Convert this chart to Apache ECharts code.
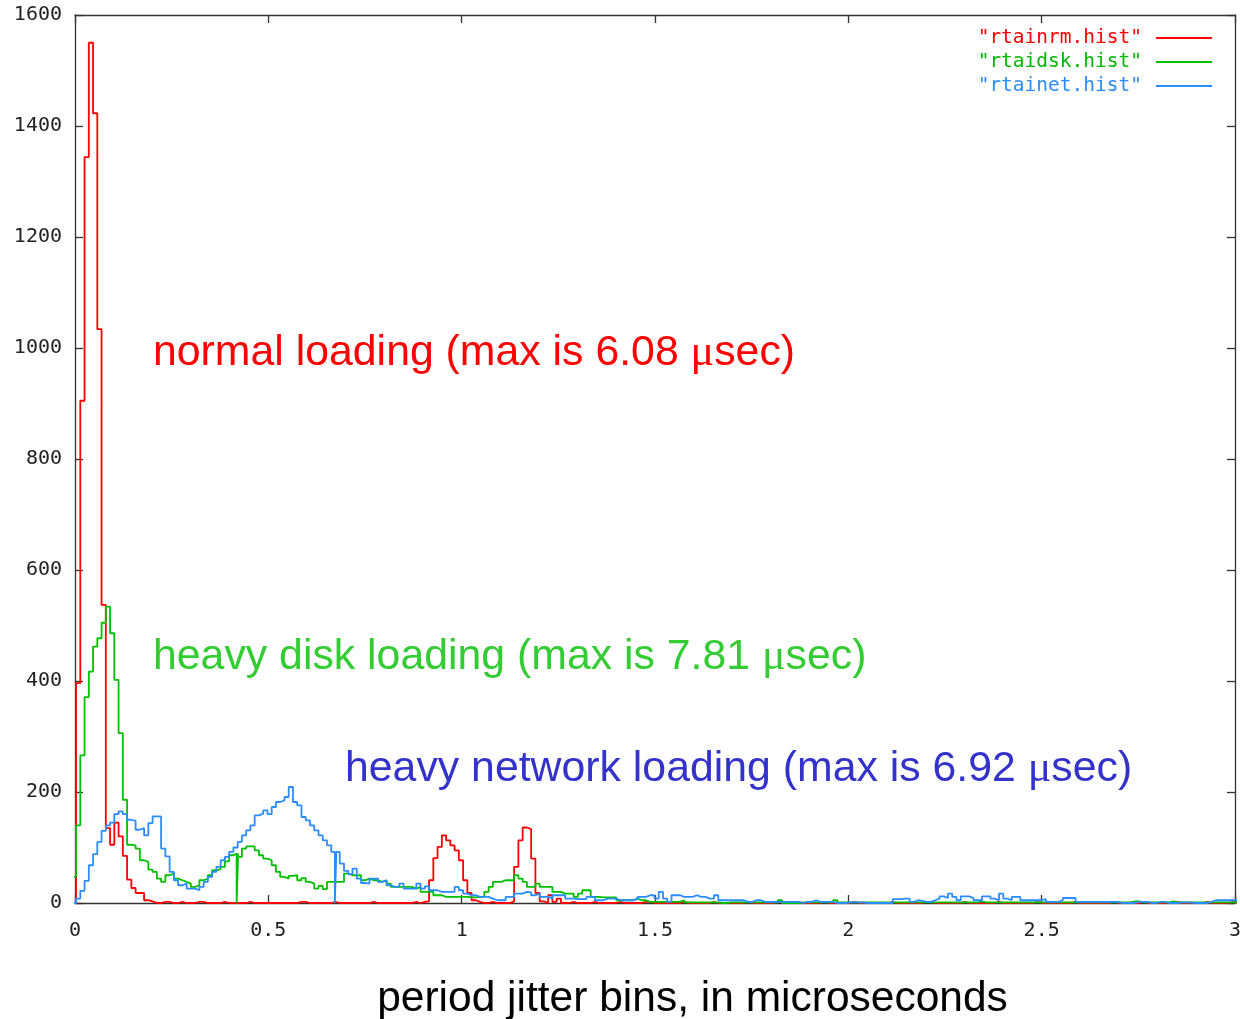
<!DOCTYPE html>
<html>
<head>
<meta charset="utf-8">
<title>Period jitter histograms</title>
<script src="https://cdn.jsdelivr.net/npm/echarts@6/dist/echarts.min.js"></script>
<style>
  html, body { margin: 0; padding: 0; background: #fff; }
  #chart { width: 1240px; height: 1019px; }
</style>
</head>
<body>
<div id="chart"></div>
<script>
// Histogram bins: each bin is BIN_WIDTH microseconds wide, the first one starts at FIRST_BIN_START.
const BIN_WIDTH = 0.011;
const FIRST_BIN_START = -0.0083;
const EMPTY_BIN_WIDTH = 0.004;

const seriesNames = ['"rtainrm.hist"', '"rtaidsk.hist"', '"rtainet.hist"'];
const loadingLabels = ['normal loading', 'heavy disk loading', 'heavy network loading'];
const maxJitter = ['6.08', '7.81', '6.92'];

// normal loading
const rtainrmCounts = [
  0, 396, 905, 1344, 1550, 1423, 1034, 537, 135, 105,
  145, 120, 85, 42, 27, 18, 18, 5, 3, 0,
  0, 2, 2, 0, 0, 2, 0, 0, 0, 2,
  2, 0, 0, 0, 0, 2, 0, 0, 0, 0,
  0, 2, 0, 0, 0, 0, 0, 0, 0, 0,
  0, 0, 0, 2, 2, 0, 0, 0, 0, 0,
  0, 2, 0, 0, 0, 0, 0, 0, 0, 0,
  2, 0, 0, 0, 0, 0, 0, 0, 0, 0,
  2, 0, 2, 3, 41, 81, 101, 122, 113, 104,
  95, 77, 41, 18, 5, 2, 0, 0, 2, 0,
  0, 0, 0, 3, 65, 113, 136, 133, 80, 18,
  3, 0, 14, 2, 8, 0, 0, 2, 0, 0,
  0, 0, 2, 0, 0, 0, 0, 0, 2, 0,
  0, 0, 0, 0, 2, 2, 0, 0, 0, 0,
  0, 0, 0, 2, 0, 0, 0, 0, 0, 0,
  2, 0, 0, 0, 0, 0, 0, 0, 2, 0,
  0, 0, 0, 0, 0, 2, 2, 0, 0, 0,
  0, 0, 0, 0, 0, 0, 2, 0, 0, 0,
  0, 0, 0, 2, 0, 0, 0, 0, 0, 0,
  0, 0, 2, 0, 0, 0, 0, 0, 0, 0,
  2, 2, 0, 0, 0, 0, 0, 0, 0, 2,
  0, 0, 0, 0, 0, 0, 0, 2, 0, 0,
  0, 0, 0, 0, 0, 0, 2, 0, 0, 0,
  0, 0, 0, 0, 0, 2, 0, 0, 0, 0,
  0, 0, 0, 0, 2, 0, 0, 0, 0, 0,
  0, 2, 0, 0, 0, 0, 0, 0, 0, 2,
  0, 0, 0, 0, 0, 0, 2, 0, 0, 0,
  0, 0, 2, 0
];

// heavy disk loading
const rtaidskCounts = [
  47, 140, 266, 371, 417, 462, 477, 505, 534, 486,
  402, 306, 186, 105, 104, 98, 77, 74, 60, 56,
  44, 38, 50, 53, 44, 41, 38, 35, 29, 32,
  41, 44, 50, 59, 61, 65, 75, 86, 89, 83,
  98, 102, 102, 95, 86, 80, 77, 68, 56, 47,
  44, 49, 50, 41, 45, 38, 35, 26, 31, 25,
  38, 38, 38, 38, 53, 50, 50, 50, 41, 44,
  41, 41, 38, 41, 35, 29, 29, 29, 29, 29,
  26, 29, 20, 20, 20, 14, 14, 11, 11, 11,
  11, 11, 11, 10, 10, 11, 11, 20, 29, 38,
  38, 41, 41, 41, 50, 44, 38, 29, 29, 35,
  29, 29, 29, 20, 20, 17, 17, 17, 11, 17,
  23, 23, 11, 11, 10, 10, 10, 10, 5, 5,
  5, 5, 8, 5, 5, 2, 2, 2, 2, 2,
  2, 2, 2, 5, 1, 1, 1, 1, 1, 1,
  1, 1, 0, 0, 1, 1, 1, 1, 1, 1,
  1, 1, 1, 1, 1, 1, 5, 0, 0, 0,
  0, 1, 1, 1, 1, 1, 1, 1, 1, 5,
  1, 1, 1, 1, 1, 1, 1, 1, 1, 1,
  1, 1, 1, 1, 1, 1, 1, 1, 1, 1,
  1, 1, 1, 1, 1, 1, 1, 1, 1, 1,
  1, 1, 1, 3, 1, 1, 1, 1, 1, 1,
  1, 1, 1, 1, 1, 1, 1, 1, 1, 1,
  1, 1, 1, 1, 1, 1, 1, 1, 1, 1,
  1, 1, 1, 1, 1, 1, 1, 1, 1, 3,
  3, 1, 1, 1, 1, 1, 1, 1, 3, 1,
  1, 1, 1, 1, 1, 1, 1, 1, 1, 1,
  1, 1, 1, 1
];

// heavy network loading
const rtainetCounts = [
  0, 8, 22, 40, 68, 88, 110, 130, 140, 145,
  160, 165, 160, 150, 148, 132, 135, 122, 144, 156,
  156, 98, 84, 56, 41, 32, 35, 26, 26, 23,
  29, 38, 47, 56, 65, 77, 83, 92, 100, 110,
  122, 131, 140, 158, 161, 167, 160, 173, 182, 185,
  191, 209, 182, 176, 155, 149, 140, 131, 122, 113,
  104, 92, 92, 71, 58, 52, 62, 44, 36, 35,
  44, 44, 38, 41, 32, 29, 29, 35, 26, 26,
  26, 35, 26, 30, 23, 23, 20, 20, 20, 20,
  29, 23, 17, 14, 14, 11, 11, 11, 8, 5,
  5, 5, 11, 11, 17, 17, 20, 19, 14, 17,
  11, 11, 8, 14, 14, 14, 8, 8, 7, 7,
  7, 11, 11, 5, 5, 8, 8, 8, 5, 5,
  5, 5, 7, 11, 11, 14, 14, 8, 20, 8,
  2, 14, 14, 11, 11, 11, 14, 11, 11, 8,
  8, 14, 5, 5, 5, 5, 5, 5, 2, 2,
  5, 5, 2, 2, 2, 2, 2, 2, 2, 2,
  2, 0, 2, 2, 5, 2, 2, 2, 2, 0,
  0, 0, 1, 1, 1, 1, 0, 0, 0, 0,
  0, 0, 0, 7, 7, 8, 8, 2, 5, 4,
  2, 2, 5, 8, 12, 9, 17, 11, 5, 12,
  12, 9, 5, 5, 12, 12, 8, 5, 17, 8,
  5, 11, 11, 5, 5, 5, 5, 5, 7, 2,
  2, 2, 5, 9, 9, 9, 2, 2, 2, 2,
  2, 2, 2, 2, 2, 2, 0, 0, 0, 0,
  2, 2, 2, 0, 0, 2, 2, 0, 0, 0,
  1, 1, 1, 0, 0, 0, 0, 2, 5, 5,
  5, 5, 5, 5
];

// positions (µs) of the empty sub-bins that drop a curve to zero
const rtainrmEmpty = [];
const rtaidskEmpty = [0.418];
const rtainetEmpty = [0.672];

const lineColors = ['#ff0000', '#00c000', '#2b8cff'];
const legendTextColors = ['#ff0000', '#00b800', '#2b8cff'];
const annotationColors = ['#ff0000', '#33cc33', '#3333cc'];

const xTicks = { min: 0, max: 3, interval: 0.5 };
const yTicks = { min: 0, max: 1600, interval: 200 };

// Turn bin counts into step-plot vertices (left edge of each bin, plus a closing edge).
function stepPoints(counts, empties) {
  const pts = [];
  counts.forEach(function (c, i) {
    const x0 = FIRST_BIN_START + i * BIN_WIDTH;
    pts.push([x0, c]);
    empties.forEach(function (g) {
      if (g >= x0 && g < x0 + BIN_WIDTH) {
        pts.push([g, 0]);
        pts.push([g + EMPTY_BIN_WIDTH, c]);
      }
    });
  });
  pts.push([FIRST_BIN_START + counts.length * BIN_WIDTH, counts[counts.length - 1]]);
  return pts;
}

const tickFont = 'DejaVu Sans Mono';
const textFont = 'Liberation Sans, Arial, sans-serif';
const frameColor = '#333';

function frameAxis(extra) {
  return Object.assign({
    type: 'value',
    axisLine: { show: true, onZero: false, lineStyle: { color: frameColor, width: 1.3 } },
    axisTick: { show: true, inside: true, length: 8, lineStyle: { color: frameColor, width: 1.3 } },
    splitLine: { show: false },
    axisLabel: { show: false }
  }, extra);
}

const chart = echarts.init(document.getElementById('chart'), null, { renderer: 'canvas' });

const allCounts = [rtainrmCounts, rtaidskCounts, rtainetCounts];
const allEmpties = [rtainrmEmpty, rtaidskEmpty, rtainetEmpty];

function annotation(x, y, i) {
  const color = annotationColors[i];
  return {
    type: 'text',
    x: x,
    y: y,
    z: 10,
    style: {
      text: '{a|' + loadingLabels[i] + ' (max is ' + maxJitter[i] + ' }{m|μ}{a|sec)}',
      fill: color,
      align: 'left',
      verticalAlign: 'middle',
      rich: {
        a: { fontFamily: textFont, fontSize: 42.8, fill: color },
        m: { fontFamily: 'Liberation Serif, serif', fontSize: 44, fill: color }
      }
    }
  };
}

chart.setOption({
  animation: false,
  backgroundColor: '#ffffff',
  grid: { left: 75, right: 5, top: 15, bottom: 116, containLabel: false, outerBoundsMode: 'none' },
  xAxis: [
    frameAxis(Object.assign({
      position: 'bottom',
      axisLabel: { show: true, margin: 18, fontFamily: tickFont, fontSize: 20, color: '#222' },
      name: 'period jitter bins, in microseconds',
      nameLocation: 'middle',
      nameGap: 75,
      nameTextStyle: { fontFamily: textFont, fontSize: 42.5, color: '#000', padding: [0, 0, 0, 75] }
    }, xTicks)),
    frameAxis(Object.assign({ position: 'top' }, xTicks))
  ],
  yAxis: [
    frameAxis(Object.assign({
      position: 'left',
      axisLabel: {
        show: true, margin: 13, fontFamily: tickFont, fontSize: 20, color: '#222',
        verticalAlign: 'middle', padding: [3, 0, 0, 0],
        formatter: function (v) { return String(v); }
      }
    }, yTicks)),
    frameAxis(Object.assign({ position: 'right' }, yTicks))
  ],
  legend: {
    orient: 'vertical',
    right: 23,
    top: 21,
    align: 'right',
    icon: 'rect',
    itemWidth: 56,
    itemHeight: 2,
    itemGap: 0,
    selectedMode: false,
    textStyle: { fontFamily: tickFont, fontSize: 19.5, lineHeight: 24, padding: [0, 9, 0, 0] },
    data: seriesNames.map(function (n, i) {
      return { name: n, textStyle: { color: legendTextColors[i] } };
    })
  },
  series: seriesNames.map(function (n, i) {
    return {
      name: n,
      type: 'line',
      step: 'end',
      xAxisIndex: 0,
      yAxisIndex: 0,
      showSymbol: false,
      symbol: 'none',
      clip: true,
      sampling: null,
      data: stepPoints(allCounts[i], allEmpties[i]),
      itemStyle: { color: lineColors[i] },
      lineStyle: { color: lineColors[i], width: 1.8 },
      z: 2 + i
    };
  }),
  graphic: [
    annotation(153, 353, 0),
    annotation(153, 657, 1),
    annotation(345, 769, 2)
  ]
});
</script>
</body>
</html>
